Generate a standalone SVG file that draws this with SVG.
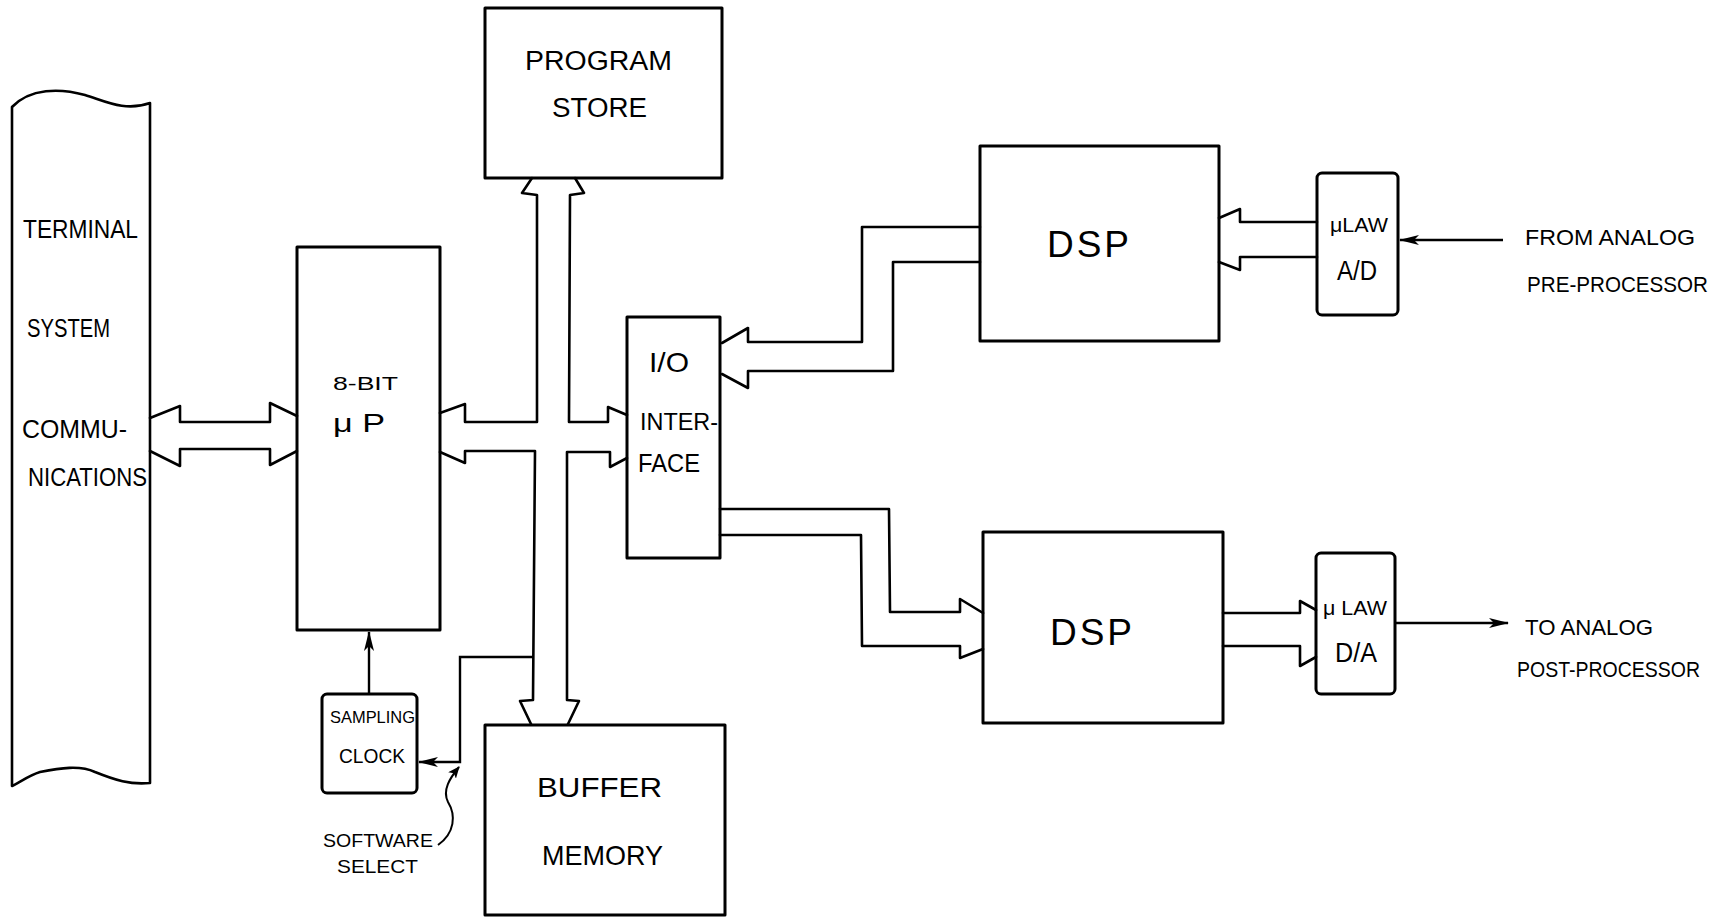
<svg xmlns="http://www.w3.org/2000/svg" width="1729" height="919" viewBox="0 0 1729 919">
<style>
.box{fill:none;stroke:#000;stroke-width:3;stroke-linejoin:round}
.bus{fill:none;stroke:#000;stroke-width:2.6;stroke-linejoin:round;stroke-linecap:round}
.wire{fill:none;stroke:#000;stroke-width:2.4}
text{font-family:"Liberation Sans","DejaVu Sans",sans-serif;fill:#000}
</style>
<defs>
<marker id="ah" viewBox="0 0 20 12" refX="19" refY="6" markerWidth="20" markerHeight="12" markerUnits="userSpaceOnUse" orient="auto">
<path d="M0,1 L20,6 L0,11 L5,6 Z" fill="#000"/>
</marker>
<marker id="ahs" viewBox="0 0 12 10" refX="11" refY="5" markerWidth="12" markerHeight="10" markerUnits="userSpaceOnUse" orient="auto">
<path d="M0,0 L12,5 L0,10 L3,5 Z" fill="#000"/>
</marker>
</defs>
<rect width="1729" height="919" fill="#fff"/>

<g id="terminal">
<path class="box" style="stroke-width:2.6" d="M12,107 C30,88 60,88 85,95 C105,101 125,112 150,103 L150,783 C130,785 115,780 95,772 C80,765 60,768 40,772 C30,775 20,782 12,786 Z"/>
<text x="23" y="238" font-size="25" textLength="115" lengthAdjust="spacingAndGlyphs">TERMINAL</text>
<text x="27" y="337" font-size="25" textLength="83" lengthAdjust="spacingAndGlyphs">SYSTEM</text>
<text x="22" y="438" font-size="25" textLength="105" lengthAdjust="spacingAndGlyphs">COMMU-</text>
<text x="28" y="486" font-size="25" textLength="119" lengthAdjust="spacingAndGlyphs">NICATIONS</text>
</g>

<g id="microprocessor">
<rect class="box" x="297" y="247" width="143" height="383"/>
<text x="333" y="390" font-size="19" textLength="65" lengthAdjust="spacingAndGlyphs">8-BIT</text>
<text x="333" y="432" font-size="25" textLength="52" lengthAdjust="spacingAndGlyphs">μ P</text>
</g>

<g id="program-store">
<rect class="box" x="485" y="8" width="237" height="170"/>
<text x="525" y="70" font-size="27" textLength="147" lengthAdjust="spacingAndGlyphs">PROGRAM</text>
<text x="552" y="117" font-size="27" textLength="95" lengthAdjust="spacingAndGlyphs">STORE</text>
</g>

<g id="buffer-memory">
<rect class="box" x="485" y="725" width="240" height="190"/>
<text x="537" y="797" font-size="28" textLength="125" lengthAdjust="spacingAndGlyphs">BUFFER</text>
<text x="542" y="865" font-size="28" textLength="121" lengthAdjust="spacingAndGlyphs">MEMORY</text>
</g>

<g id="io-interface">
<rect class="box" x="627" y="317" width="93" height="241"/>
<text x="649" y="372" font-size="28" textLength="40" lengthAdjust="spacingAndGlyphs">I/O</text>
<text x="640" y="430" font-size="24" textLength="78" lengthAdjust="spacingAndGlyphs">INTER-</text>
<text x="638" y="472" font-size="25" textLength="62" lengthAdjust="spacingAndGlyphs">FACE</text>
</g>

<g id="dsp-top">
<rect class="box" x="980" y="146" width="239" height="195"/>
<text x="1047" y="257" font-size="37" textLength="82" lengthAdjust="spacing">DSP</text>
</g>

<g id="dsp-bottom">
<rect class="box" x="983" y="532" width="240" height="191"/>
<text x="1050" y="645" font-size="37" textLength="82" lengthAdjust="spacing">DSP</text>
</g>

<g id="ad-converter">
<rect class="box" x="1317" y="173" width="81" height="142" rx="5"/>
<text x="1330" y="232" font-size="20" textLength="58" lengthAdjust="spacingAndGlyphs">μLAW</text>
<text x="1337" y="280" font-size="27" textLength="40" lengthAdjust="spacingAndGlyphs">A/D</text>
</g>

<g id="da-converter">
<rect class="box" x="1316" y="553" width="79" height="141" rx="5"/>
<text x="1323" y="615" font-size="20" textLength="64" lengthAdjust="spacingAndGlyphs">μ LAW</text>
<text x="1335" y="662" font-size="27" textLength="42" lengthAdjust="spacingAndGlyphs">D/A</text>
</g>

<g id="sampling-clock">
<rect class="box" x="322" y="694" width="95" height="99" rx="5"/>
<text x="330" y="723" font-size="17" textLength="85" lengthAdjust="spacingAndGlyphs">SAMPLING</text>
<text x="339" y="763" font-size="21" textLength="66" lengthAdjust="spacingAndGlyphs">CLOCK</text>
</g>

<g id="labels">
<text x="1525" y="245" font-size="22" textLength="170" lengthAdjust="spacingAndGlyphs">FROM ANALOG</text>
<text x="1527" y="292" font-size="22" textLength="181" lengthAdjust="spacingAndGlyphs">PRE-PROCESSOR</text>
<text x="1525" y="635" font-size="22" textLength="128" lengthAdjust="spacingAndGlyphs">TO ANALOG</text>
<text x="1517" y="677" font-size="22" textLength="183" lengthAdjust="spacingAndGlyphs">POST-PROCESSOR</text>
<text x="323" y="847" font-size="18" textLength="110" lengthAdjust="spacingAndGlyphs">SOFTWARE</text>
<text x="337" y="873" font-size="18" textLength="81" lengthAdjust="spacingAndGlyphs">SELECT</text>
</g>

<g id="connectors">
<!-- terminal <-> microprocessor -->
<path class="bus" d="M150,418 L180,406 L180,422 L270,422 L270,403 L297,416"/>
<path class="bus" d="M150,451 L180,466 L180,449 L270,449 L270,465 L297,451"/>
<!-- central bus -->
<path class="bus" d="M532,178 L522,193 L537,195 L537,422 L465,422 L465,404 L440,413"/>
<path class="bus" d="M575,178 L584,193 L570,195 L569,422 L608,422 L608,407 L627,415"/>
<path class="bus" d="M440,452 L465,463 L465,451 L535,451 L533,700 L520,701 L531,724"/>
<path class="bus" d="M627,458 L610,467 L610,452 L567,452 L567,700 L579,701 L568,724"/>
<!-- I/O <-> top DSP -->
<path class="bus" d="M722,343 L748,328 L748,342 L862,342 L862,227 L980,227"/>
<path class="bus" d="M722,374 L748,388 L748,371 L893,371 L893,262 L980,262"/>
<!-- I/O -> bottom DSP -->
<path class="bus" d="M720,509 L889,509 L890,612 L960,612 L960,599 L983,613"/>
<path class="bus" d="M720,535 L861,535 L862,646 L960,646 L960,658 L983,649"/>
<!-- A/D -> top DSP -->
<path class="bus" d="M1317,222 L1240,222 L1240,209 L1219,218"/>
<path class="bus" d="M1317,257 L1240,257 L1240,270 L1219,262"/>
<!-- bottom DSP -> D/A -->
<path class="bus" d="M1223,613 L1300,613 L1300,601 L1316,610"/>
<path class="bus" d="M1223,646 L1300,646 L1300,666 L1316,657"/>
<!-- analog in / out -->
<path class="wire" d="M1503,240 L1400,240" marker-end="url(#ah)"/>
<path class="wire" d="M1395,623 L1508,623" marker-end="url(#ah)"/>
<!-- clock -> microprocessor -->
<path class="wire" d="M369,694 L369,632" marker-end="url(#ah)"/>
<!-- software select -->
<path class="wire" d="M533,657 L460,657 L460,762 L419,762" marker-end="url(#ah)"/>
<path class="wire" style="stroke-width:2" d="M438,845 C455,833 456,815 448,802 C442,790 450,778 459,767" marker-end="url(#ahs)"/>
</g>
</svg>
